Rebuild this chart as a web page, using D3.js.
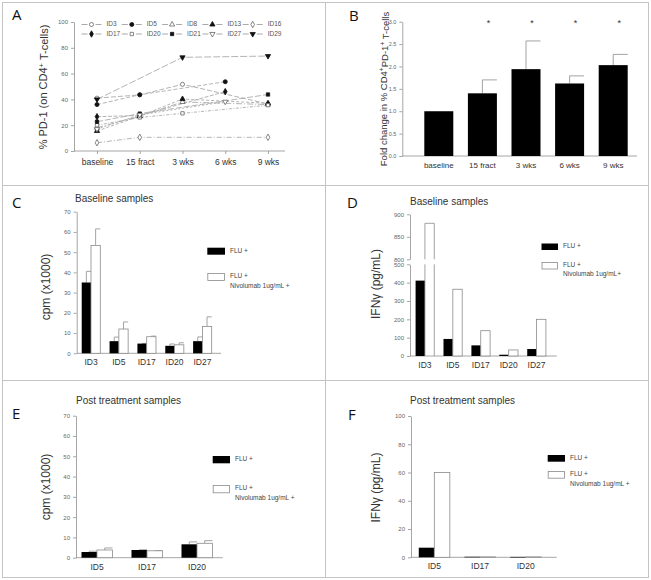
<!DOCTYPE html>
<html><head><meta charset="utf-8">
<script src="https://cdn.jsdelivr.net/npm/d3@7"></script>
<style>
body{margin:0;background:#fff;}
svg{display:block;}
</style></head><body>
<svg id="chart" width="651" height="580"></svg>
<script>
// ---------------- DATA ----------------
const timepoints = ["baseline","15 fract","3 wks","6 wks","9 wks"];
const pdIds = ["ID3","ID5","ID8","ID13","ID16","ID17","ID20","ID21","ID27","ID29"];
const pdID3  = [41, 43.5, 51.7, null, 36.5];
const pdID5  = [36, 43.6, null, 53.7, null];
const pdID8  = [18, 27, 38, null, 36];
const pdID13 = [15.5, 27, 40.3, null, 37];
const pdID16 = [6.4, 10.6, null, null, 10.6];
const pdID17 = [26.6, 27.5, null, 46, null];
const pdID20 = [20, 26, 29.2, null, 35.5];
const pdID21 = [22.7, 29, null, null, 43.8];
const pdID27 = [17, 28, null, 38.2, null];
const pdID29 = [40, null, 72.6, null, 73.6];
const pdSymbols = ["circle","circle","triangle","triangle","diamond","diamond","square","square","triangleDown","triangleDown"];
const pdFilled = [false,true,false,true,false,true,false,true,false,true];
const pdTicks = [0,20,40,60,80,100];

const foldMean = [1.0, 1.4, 1.94, 1.62, 2.03];
const foldErr  = [null, 1.70, 2.57, 1.79, 2.27];
const foldSig  = [false, true, true, true, true];
const foldTicks = [0,0.5,1.0,1.5,2.0,2.5,3.0];

const seriesNames = ["FLU +", "FLU +"];
const baseIds = ["ID3","ID5","ID17","ID20","ID27"];
const cFlu     = [35, 6, 4.8, 3.7, 6];
const cFluErr  = [40.5, 8, 4.9, 4.6, 8.1];
const cNivo    = [53.3, 12, 8.2, 4.2, 13.3];
const cNivoErr = [61.5, 15.5, 8.5, 5.2, 18];
const cpmTicks = [0,10,20,30,40,50,60,70];

const dFlu  = [411, 93, 58, 7, 38];
const dNivo = [880, 364, 138, 33, 200];
const dTicksLow = [0,100,200,300,400,500];
const dTicksHigh = [800,850,900];

const postIds = ["ID5","ID17","ID20"];
const eFlu     = [2.8, 3.8, 6.6];
const eFluErr  = [3.2, 3.9, 7.8];
const eNivo    = [3.8, 3.4, 7.1];
const eNivoErr = [4.8, 3.5, 8.4];

const fFlu  = [6.8, 0.4, 0.3];
const fNivo = [60, 0.3, 0.3];
const fTicks = [0,20,40,60,80,100];

// ---------------- STYLE ----------------
const FONT = "'Liberation Sans', Arial, sans-serif";
const LFONT = "'Open Sans', 'Liberation Sans', sans-serif";
const AXC = "#8f8f8f", TKC = "#666", LBC = "#333";
const svg = d3.select("#chart").style("font-family", FONT);

// frame
const frame = svg.append("g").attr("stroke","#c4c4c4").attr("stroke-width",1).attr("fill","none");
frame.append("rect").attr("x",2.5).attr("y",2.5).attr("width",646).attr("height",575);
frame.append("line").attr("x1",325.5).attr("x2",325.5).attr("y1",2.5).attr("y2",577.5);
frame.append("line").attr("x1",2.5).attr("x2",648.5).attr("y1",185.5).attr("y2",185.5);
frame.append("line").attr("x1",2.5).attr("x2",648.5).attr("y1",380.5).attr("y2",380.5);

// panel letters
[["A",12,20],["B",349,21],["C",12,208],["D",347,208],["E",12,419],["F",348,420]].forEach(([t,x,y])=>{
  svg.append("text").attr("x",x).attr("y",y).text(t)
    .style("font-family",LFONT).style("font-size","15px").attr("fill","#111");
});

function styleAxis(g, fs){
  g.attr("font-size", null).attr("font-family", null);
  g.selectAll(".domain").attr("stroke", AXC).attr("stroke-width",0.8);
  g.selectAll(".tick line").attr("stroke", AXC).attr("stroke-width",0.8);
  g.selectAll(".tick text").attr("fill", TKC).style("font-size", fs+"px").style("font-family", FONT);
}
function xLabels(g, fs){
  g.selectAll(".tick text").attr("fill", LBC).style("font-size", fs+"px");
}
function rotLabel(x, y, parts, fs){
  const t = svg.append("text").attr("transform",`translate(${x},${y}) rotate(-90)`)
    .attr("text-anchor","middle").attr("fill",LBC).style("font-size",fs+"px");
  let sup = false;
  parts.forEach(p=>{
    const isSup = p.startsWith("^");
    const txt = isSup ? p.slice(1) : p;
    const ts = t.append("tspan").text(txt);
    if (isSup && !sup) { ts.attr("dy","-0.4em").style("font-size",(fs*0.7)+"px"); sup=true; }
    else if (!isSup && sup) { ts.attr("dy","0.4em"); sup=false; }
  });
  return t;
}
function title(x, y, txt){
  svg.append("text").attr("x",x).attr("y",y).attr("dominant-baseline","middle")
    .attr("fill",LBC).style("font-size","10px").text(txt);
}
function legend(x, y1, y2, w, h){
  svg.append("rect").attr("x",x).attr("y",y1).attr("width",w).attr("height",h).attr("fill","#000");
  svg.append("rect").attr("x",x+0.5).attr("y",y2+0.5).attr("width",w-1).attr("height",h).attr("fill","#fff")
    .attr("stroke","#8a8a8a").attr("stroke-width",0.8);
  const tx = x + w + 5;
  svg.append("text").attr("x",tx).attr("y",y1+h/2).attr("dominant-baseline","middle").attr("fill","#444").style("font-size","6.5px").text(seriesNames[0]);
  svg.append("text").attr("x",tx).attr("y",y2+h/2).attr("dominant-baseline","middle").attr("fill","#444").style("font-size","6.5px").text(seriesNames[1]);
  svg.append("text").attr("x",tx).attr("y",y2+h/2+10).attr("dominant-baseline","middle").attr("fill","#444").style("font-size","6.5px").text("Nivolumab 1ug/mL +");
}

// ---------------- PANEL A ----------------
(function(){
  const y = d3.scaleLinear().domain([0,100]).range([151,22]);
  const x = d3.scalePoint().domain(timepoints).range([97,268]);
  const ax = svg.append("g").attr("transform","translate(74,0)")
    .call(d3.axisLeft(y).tickValues(pdTicks).tickSize(3).tickSizeOuter(0).tickPadding(3));
  styleAxis(ax, 6);
  const bx = svg.append("g").attr("transform",`translate(0,${y(0)})`)
    .call(d3.axisBottom(x).tickSize(3).tickSizeOuter(0).tickPadding(5));
  styleAxis(bx, 8.5); xLabels(bx, 8.5);
  bx.select(".domain").remove();
  bx.append("line").attr("x1",74).attr("x2",285).attr("stroke",AXC).attr("stroke-width",0.8);

  const all = [pdID3,pdID5,pdID8,pdID13,pdID16,pdID17,pdID20,pdID21,pdID27,pdID29];
  const dashes = ["5,2","4,2","6,2,1,2","3,2","5,2,1,2","4,1.5","3,1.5,1,1.5","6,2","2,2","7,2"];
  const symType = {circle:d3.symbolCircle, triangle:d3.symbolTriangle, diamond:d3.symbolDiamond, square:d3.symbolSquare, triangleDown:d3.symbolTriangle};
  const line = d3.line().x(d=>x(d.t)).y(d=>y(d.v));
  all.forEach((vals,i)=>{
    const pts = vals.map((v,j)=>({t:timepoints[j],v})).filter(d=>d.v!==null);
    svg.append("path").attr("d",line(pts)).attr("fill","none").attr("stroke","#ababab")
      .attr("stroke-width",0.9).attr("stroke-dasharray",dashes[i]);
  });
  function marker(g, type, filled, cx, cy){
    const sz = type==="circle"?13:(type==="square"?11:12);
    g.append("path").attr("d", d3.symbol().type(symType[type]).size(sz)())
      .attr("transform",`translate(${cx},${cy})${type==="triangleDown"?" rotate(180)":""}`)
      .attr("fill", filled?"#111":"#fff").attr("stroke", filled?"#111":"#666").attr("stroke-width",0.8);
  }
  all.forEach((vals,i)=>{
    vals.forEach((v,j)=>{ if(v!==null) marker(svg, pdSymbols[i], pdFilled[i], x(timepoints[j]), y(v)); });
  });
  // legend
  pdIds.forEach((id,i)=>{
    const col = i%5, row = Math.floor(i/5);
    const mx = 91.5 + col*40.3, my = 24.5 + row*9.5;
    svg.append("line").attr("x1",mx-10).attr("x2",mx-4).attr("y1",my).attr("y2",my).attr("stroke","#a0a0a0").attr("stroke-width",0.9);
    svg.append("line").attr("x1",mx+4).attr("x2",mx+10).attr("y1",my).attr("y2",my).attr("stroke","#a0a0a0").attr("stroke-width",0.9);
    marker(svg, pdSymbols[i], pdFilled[i], mx, my);
    svg.append("text").attr("x",mx+15).attr("y",my).attr("dominant-baseline","middle")
      .attr("fill","#555").style("font-size","6.5px").text(id);
  });
  rotLabel(47, 87, ["% PD-1 (on CD4","^+"," T-cells)"], 11);
})();

// ---------------- PANEL B ----------------
(function(){
  const y = d3.scaleLinear().domain([0,3]).range([156,21.7]);
  const x = d3.scaleBand().domain(timepoints).range([417,635]).paddingInner(0.335).paddingOuter(0.1675);
  const ax = svg.append("g").attr("transform","translate(402.3,0)")
    .call(d3.axisLeft(y).tickValues(foldTicks).tickFormat(d3.format(".1f")).tickSize(3).tickSizeOuter(0).tickPadding(3));
  styleAxis(ax, 5.5);
  const bx = svg.append("g").attr("transform",`translate(0,${y(0)})`)
    .call(d3.axisBottom(x).tickSize(0).tickPadding(6));
  styleAxis(bx, 8); xLabels(bx, 8);
  bx.select(".domain").remove();
  bx.append("line").attr("x1",402.3).attr("x2",637).attr("stroke",AXC).attr("stroke-width",0.8);
  timepoints.forEach((t,i)=>{
    const x0 = x(t), w = x.bandwidth(), cx = x0 + w/2;
    if (foldErr[i] !== null) {
      svg.append("line").attr("x1",cx).attr("x2",cx).attr("y1",y(foldMean[i])).attr("y2",y(foldErr[i])).attr("stroke","#999").attr("stroke-width",0.9);
      svg.append("line").attr("x1",cx).attr("x2",x0+w).attr("y1",y(foldErr[i])).attr("y2",y(foldErr[i])).attr("stroke","#999").attr("stroke-width",0.9);
    }
    svg.append("rect").attr("x",x0).attr("y",y(foldMean[i])).attr("width",w).attr("height",y(0)-y(foldMean[i])).attr("fill","#000");
    if (foldSig[i]) svg.append("text").attr("x",cx+6).attr("y",y(2.9)).attr("text-anchor","middle").attr("fill","#333").style("font-size","9px").text("*");
  });
  rotLabel(387, 89, ["Fold change in % CD4","^+","PD-1","^+"," T-cells"], 9.5);
})();

// ---------------- grouped bars helper ----------------
function groupedBars(ids, flu, nivo, fluErr, nivoErr, x, y){
  const sub = d3.scaleBand().domain(["flu","nivo"]).range([0, x.bandwidth()]);
  const w = sub.bandwidth();
  ids.forEach((id,i)=>{
    const x0 = x(id);
    [["flu",flu,fluErr],["nivo",nivo,nivoErr]].forEach(([k,vals,errs])=>{
      const bx = x0 + sub(k), cx = bx + w/2;
      if (errs && errs[i] > vals[i]) {
        svg.append("line").attr("x1",cx).attr("x2",cx).attr("y1",y(vals[i])).attr("y2",y(errs[i])).attr("stroke","#999").attr("stroke-width",0.9);
        svg.append("line").attr("x1",cx).attr("x2",bx+w).attr("y1",y(errs[i])).attr("y2",y(errs[i])).attr("stroke","#999").attr("stroke-width",0.9);
      }
      if (k==="flu") svg.append("rect").attr("x",bx).attr("y",y(vals[i])).attr("width",w).attr("height",Math.max(0.6,y(0)-y(vals[i]))).attr("fill","#000");
      else svg.append("rect").attr("x",bx).attr("y",y(vals[i])).attr("width",w).attr("height",Math.max(0.4,y(0)-y(vals[i]))).attr("fill","#fff").attr("stroke","#8a8a8a").attr("stroke-width",0.8);
    });
  });
}
function axesGrouped(x, y, yTicks, axisX, xEnd, yFs){
  const ax = svg.append("g").attr("transform",`translate(${axisX},0)`)
    .call(d3.axisLeft(y).tickValues(yTicks).tickSize(3).tickSizeOuter(0).tickPadding(3));
  styleAxis(ax, yFs);
  const bx = svg.append("g").attr("transform",`translate(0,${y(0)})`)
    .call(d3.axisBottom(x).tickSize(0).tickPadding(6));
  styleAxis(bx, 8.5); xLabels(bx, 8.5);
  bx.select(".domain").remove();
  bx.append("line").attr("x1",axisX).attr("x2",xEnd).attr("stroke",AXC).attr("stroke-width",0.8);
}

// ---------------- PANEL C ----------------
(function(){
  const y = d3.scaleLinear().domain([0,70]).range([353.3,211.7]);
  const x = d3.scaleBand().domain(baseIds).range([76.7,216.7]).paddingInner(1/3).paddingOuter(0.18);
  axesGrouped(x, y, cpmTicks, 76.7, 221, 6);
  groupedBars(baseIds, cFlu, cNivo, cFluErr, cNivoErr, x, y);
  title(75, 199, "Baseline samples");
  legend(207.3, 247.7, 273, 17.7, 7);
  rotLabel(50, 287, ["cpm (x1000)"], 12);
})();

// ---------------- PANEL D (broken axis) ----------------
(function(){
  const yLo = d3.scaleLinear().domain([0,500]).range([356,264.3]);
  const yHi = d3.scaleLinear().domain([800,900]).range([259.3,214.3]);
  const x = d3.scaleBand().domain(baseIds).range([410,551.5]).paddingInner(0.33).paddingOuter(0.2);
  const a1 = svg.append("g").attr("transform","translate(410,0)")
    .call(d3.axisLeft(yLo).tickValues(dTicksLow).tickSize(3).tickSizeOuter(0).tickPadding(3));
  styleAxis(a1, 6);
  const a2 = svg.append("g").attr("transform","translate(410,0)")
    .call(d3.axisLeft(yHi).tickValues(dTicksHigh).tickSize(3).tickSizeOuter(0).tickPadding(3));
  styleAxis(a2, 6);
  const bx = svg.append("g").attr("transform",`translate(0,${yLo(0)})`)
    .call(d3.axisBottom(x).tickSize(0).tickPadding(6));
  styleAxis(bx, 8.5); xLabels(bx, 8.5);
  bx.select(".domain").remove();
  bx.append("line").attr("x1",410).attr("x2",556.7).attr("stroke",AXC).attr("stroke-width",0.8);
  const sub = d3.scaleBand().domain(["flu","nivo"]).range([0, x.bandwidth()]);
  const w = sub.bandwidth();
  baseIds.forEach((id,i)=>{
    const x0 = x(id);
    svg.append("rect").attr("x",x0+sub("flu")).attr("y",yLo(dFlu[i])).attr("width",w).attr("height",yLo(0)-yLo(dFlu[i])).attr("fill","#000");
    const bx2 = x0+sub("nivo"), v = dNivo[i];
    if (v <= 500) {
      svg.append("rect").attr("x",bx2).attr("y",yLo(v)).attr("width",w).attr("height",yLo(0)-yLo(v)).attr("fill","#fff").attr("stroke","#8a8a8a").attr("stroke-width",0.8);
    } else {
      const p = d3.path();
      p.moveTo(bx2, yLo(0)); p.lineTo(bx2, yLo(500));
      p.moveTo(bx2+w, yLo(0)); p.lineTo(bx2+w, yLo(500));
      p.moveTo(bx2, yHi(800)); p.lineTo(bx2, yHi(v)); p.lineTo(bx2+w, yHi(v)); p.lineTo(bx2+w, yHi(800));
      svg.append("path").attr("d",p.toString()).attr("fill","none").attr("stroke","#8a8a8a").attr("stroke-width",0.8);
    }
  });
  title(410, 202, "Baseline samples");
  // legend
  svg.append("rect").attr("x",541.5).attr("y",243.5).attr("width",16.5).attr("height",6.5).attr("fill","#000");
  svg.append("rect").attr("x",542).attr("y",262.5).attr("width",15.5).attr("height",6.5).attr("fill","#fff").attr("stroke","#8a8a8a").attr("stroke-width",0.8);
  [["FLU +",246.7],["FLU +",265.5],["Nivolumab 1ug/mL+",274]].forEach(([t,yy])=>{
    svg.append("text").attr("x",563).attr("y",yy).attr("dominant-baseline","middle").attr("fill","#444").style("font-size","6.5px").text(t);
  });
  rotLabel(380, 284, ["IFNγ (pg/mL)"], 12);
})();

// ---------------- PANEL E ----------------
(function(){
  const y = d3.scaleLinear().domain([0,70]).range([557.7,415.7]);
  const x = d3.scaleBand().domain(postIds).range([76,218]).paddingInner(0.38).paddingOuter(0.11);
  axesGrouped(x, y, cpmTicks, 76, 222.7, 6);
  groupedBars(postIds, eFlu, eNivo, eFluErr, eNivoErr, x, y);
  title(76, 401, "Post treatment samples");
  legend(212.7, 456, 485, 17.3, 7.3);
  rotLabel(50, 487, ["cpm (x1000)"], 12);
})();

// ---------------- PANEL F ----------------
(function(){
  const y = d3.scaleLinear().domain([0,100]).range([557.3,416]);
  const x = d3.scaleBand().domain(postIds).range([411,549]).paddingInner(0.32).paddingOuter(0.17);
  axesGrouped(x, y, fTicks, 411, 556.7, 6);
  groupedBars(postIds, fFlu, fNivo, null, null, x, y);
  title(410, 401, "Post treatment samples");
  legend(547.7, 455, 471, 17.3, 6.7);
  rotLabel(380, 487.5, ["IFNγ (pg/mL)"], 12);
})();
</script></body></html>
